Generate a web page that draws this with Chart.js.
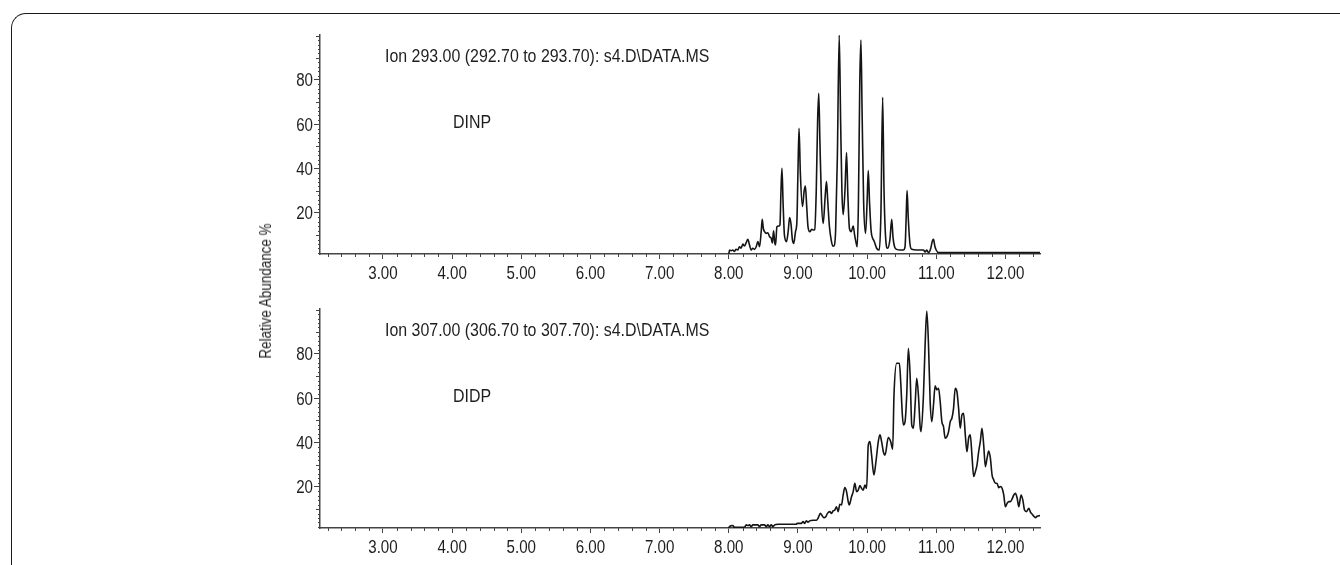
<!DOCTYPE html>
<html>
<head>
<meta charset="utf-8">
<title>DINP / DIDP</title>
<script src="https://cdn.jsdelivr.net/npm/chart.js@4.4.1/dist/chart.umd.min.js"></script>
<style>
  html, body { margin: 0; padding: 0; background: #fff; }
  body { width: 1340px; height: 565px; position: relative; overflow: hidden;
         font-family: "Liberation Sans", Arial, sans-serif; color: #1e1e1e; }
  .marco { position: absolute; left: 11px; top: 13px; width: 1400px; height: 600px;
           border-left: 1.5px solid #1a1a1a; border-top: 1.5px solid #1a1a1a; border-top-left-radius: 15px; }
  canvas { position: absolute; left: 0; }
  /* texto estrecho: Liberation Sans comprimida en horizontal */
  .nota { position: absolute; font-size: 18px; line-height: 20px; white-space: nowrap;
          transform: scaleX(0.885); transform-origin: 0 50%; }
  .ytitulo { position: absolute; left: 266px; top: 291px; font-size: 16px; white-space: nowrap;
             transform: translate(-50%, -50%) rotate(-90deg) scaleX(0.84); }
</style>
</head>
<body>
<div class="marco"></div>
<canvas id="chartDINP" width="1340" height="290" style="top:0"></canvas>
<canvas id="chartDIDP" width="1340" height="290" style="top:274px"></canvas>
<div class="nota" style="left:385px; top:46px">Ion 293.00 (292.70 to 293.70): s4.D\DATA.MS</div>
<div class="nota" style="left:453px; top:112px">DINP</div>
<div class="nota" style="left:385px; top:320px">Ion 307.00 (306.70 to 307.70): s4.D\DATA.MS</div>
<div class="nota" style="left:453px; top:386px">DIDP</div>
<div class="ytitulo">Relative Abundance %</div>
<script>
// Marcas de los ejes
const xTicks = [3, 4, 5, 6, 7, 8, 9, 10, 11, 12];
const yTicks = [20, 40, 60, 80];

// Ion 293 - DINP (tiempo en min, abundancia relativa %)
const dinpTime = [
  8.000, 8.012, 8.035, 8.058, 8.082, 8.106, 8.131, 8.155, 8.179, 8.203, 8.227, 8.252, 8.276, 8.300,
  8.324, 8.348, 8.372, 8.397, 8.421, 8.445, 8.470, 8.484, 8.500, 8.518, 8.542, 8.566, 8.590, 8.614,
  8.630, 8.648, 8.665, 8.677, 8.696, 8.721, 8.740, 8.755, 8.769, 8.785, 8.805, 8.835, 8.860, 8.880,
  8.900, 8.920, 8.940, 8.965, 8.985, 9.000, 9.016, 9.035, 9.066, 9.090, 9.108, 9.125, 9.145, 9.172,
  9.200, 9.219, 9.243, 9.265, 9.285, 9.301, 9.318, 9.340, 9.365, 9.395, 9.413, 9.430, 9.455, 9.480,
  9.505, 9.524, 9.545, 9.570, 9.597, 9.618, 9.636, 9.654, 9.680, 9.703, 9.722, 9.745, 9.770, 9.799,
  9.820, 9.845, 9.857, 9.875, 9.895, 9.911, 9.928, 9.950, 9.978, 10.000, 10.017, 10.035, 10.058, 10.080,
  10.099, 10.138, 10.177, 10.200, 10.225, 10.245, 10.270, 10.297, 10.330, 10.356, 10.375, 10.400, 10.428, 10.476,
  10.525, 10.549, 10.565, 10.578, 10.595, 10.620, 10.646, 10.718, 10.815, 10.839, 10.863, 10.888, 10.920, 10.945,
  10.960, 10.980, 10.999, 11.033, 12.500
];
const dinpAbund = [
  1.4, 3.3, 3.0, 3.3, 2.7, 3.6, 3.3, 4.8, 4.1, 6.0, 5.1, 6.6, 8.1, 5.6,
  3.3, 4.1, 3.6, 4.8, 7.1, 4.8, 12.0, 17.1, 13.0, 11.6, 10.8, 11.1, 9.3, 8.6,
  6.5, 12.0, 6.5, 5.6, 13.8, 14.1, 14.6, 30.0, 40.2, 25.0, 10.0, 7.1, 12.0, 18.0,
  15.0, 8.0, 6.3, 11.6, 16.1, 38.0, 58.2, 38.0, 22.9, 30.0, 32.2, 24.0, 14.0, 11.6,
  12.6, 12.3, 12.6, 30.0, 62.0, 74.0, 52.0, 26.0, 15.3, 28.0, 34.2, 26.0, 14.0, 8.0,
  5.0, 5.2, 12.0, 45.0, 100.3, 60.0, 30.0, 19.2, 30.0, 47.3, 28.0, 13.0, 11.6, 14.1,
  10.0, 6.0, 4.8, 25.0, 80.0, 98.0, 65.0, 25.0, 10.8, 25.0, 39.1, 25.0, 12.0, 8.6,
  7.5, 4.1, 3.3, 20.0, 72.2, 30.0, 8.0, 4.1, 8.0, 17.1, 9.0, 4.5, 3.6, 3.3,
  3.3, 4.8, 18.0, 30.1, 18.0, 6.0, 3.6, 3.3, 3.3, 2.4, 3.3, 2.1, 4.0, 7.5,
  8.1, 5.0, 3.3, 2.1, 2.1
];

// Ion 307 - DIDP
const didpTime = [
  8.000, 8.010, 8.058, 8.082, 8.227, 8.252, 8.276, 8.300, 8.324, 8.348, 8.421, 8.445, 8.469, 8.518,
  8.542, 8.566, 8.590, 8.614, 8.638, 8.663, 8.711, 8.977, 8.987, 9.050, 9.074, 9.098, 9.122, 9.146,
  9.170, 9.219, 9.267, 9.291, 9.325, 9.349, 9.374, 9.403, 9.427, 9.461, 9.485, 9.509, 9.533, 9.557,
  9.582, 9.606, 9.630, 9.654, 9.678, 9.703, 9.727, 9.741, 9.775, 9.799, 9.823, 9.848, 9.872, 9.896,
  9.920, 9.944, 9.969, 9.993, 10.017, 10.041, 10.065, 10.099, 10.128, 10.162, 10.186, 10.210, 10.235, 10.259,
  10.307, 10.341, 10.370, 10.389, 10.428, 10.467, 10.486, 10.510, 10.525, 10.549, 10.573, 10.597, 10.622, 10.646,
  10.670, 10.694, 10.718, 10.742, 10.767, 10.781, 10.815, 10.839, 10.863, 10.888, 10.912, 10.936, 10.960, 10.984,
  11.008, 11.033, 11.057, 11.081, 11.105, 11.129, 11.154, 11.178, 11.202, 11.226, 11.250, 11.274, 11.299, 11.323,
  11.347, 11.371, 11.395, 11.420, 11.444, 11.468, 11.492, 11.516, 11.541, 11.565, 11.589, 11.613, 11.637, 11.661,
  11.686, 11.710, 11.734, 11.758, 11.783, 11.807, 11.831, 11.855, 11.879, 11.903, 11.927, 11.952, 11.976, 12.000,
  12.024, 12.048, 12.073, 12.097, 12.121, 12.145, 12.170, 12.194, 12.208, 12.227, 12.252, 12.276, 12.305, 12.339,
  12.363, 12.387, 12.435, 12.459, 12.500
];
const didpAbund = [
  1.4, 2.1, 2.6, 1.8, 1.8, 2.9, 2.6, 2.9, 2.1, 2.9, 2.9, 2.1, 2.9, 2.9,
  2.1, 2.9, 2.1, 2.9, 2.1, 2.9, 3.2, 3.2, 3.6, 3.6, 4.4, 3.6, 4.7, 4.1,
  4.7, 5.0, 5.0, 5.9, 8.1, 7.1, 6.2, 6.6, 8.1, 8.9, 8.1, 9.2, 9.6, 11.1,
  8.9, 12.2, 11.9, 16.4, 19.7, 17.9, 13.4, 11.9, 15.6, 17.9, 21.7, 17.9, 18.6, 20.6,
  19.4, 18.6, 20.9, 19.4, 38.9, 40.5, 34.4, 25.4, 31.4, 40.5, 43.5, 40.5, 35.9, 34.4,
  42.3, 40.5, 37.1, 61.5, 75.8, 75.8, 67.5, 52.5, 48.0, 49.5, 61.5, 82.6, 70.5, 48.0,
  46.5, 57.0, 69.0, 61.5, 47.2, 45.0, 61.5, 84.1, 99.4, 84.1, 58.5, 49.5, 57.0, 65.7,
  63.8, 64.5, 58.5, 49.5, 47.2, 42.0, 42.7, 45.0, 49.5, 51.0, 55.5, 64.5, 63.0, 55.5,
  46.5, 52.5, 53.2, 43.5, 35.9, 42.0, 43.5, 34.4, 24.7, 26.9, 29.9, 35.9, 40.5, 46.5,
  38.9, 29.2, 32.9, 36.2, 32.9, 25.4, 23.2, 21.7, 21.7, 19.7, 20.2, 19.4, 16.4, 11.1,
  12.6, 13.4, 13.4, 14.6, 16.4, 17.1, 14.9, 11.1, 13.4, 16.4, 14.1, 9.6, 8.9, 10.4,
  8.6, 7.7, 6.2, 6.8, 7.1
];

const X_MIN = 2.09, X_MAX = 12.5;
const Y_MIN = 1.5, Y_MAX = 100.3;
const FUENTE = '18px "Liberation Sans", Arial, sans-serif';
const ESTRECHO = 0.84; // compresión horizontal del texto

// Marcas menores (cada 0.2 min en x, cada 2 % en y) y etiquetas estrechas
const ejesCromatograma = {
    id: "ejesCromatograma",
    afterDraw(chart) {
        const ctx = chart.ctx;
        const x = chart.scales.x;
        const y = chart.scales.y;
        ctx.save();
        ctx.strokeStyle = "#444";
        ctx.lineWidth = 1;
        ctx.beginPath();
        for (let v = 2.2; v < X_MAX; v += 0.2) {
            const r = Math.round(v * 10) / 10;
            if (Number.isInteger(r)) continue;
            const px = Math.round(x.getPixelForValue(r)) + 0.5;
            ctx.moveTo(px, y.bottom);
            ctx.lineTo(px, y.bottom + 3);
        }
        for (let v = 2; v < Y_MAX; v += 2) {
            if (v % 20 === 0 && v <= 80) continue;
            const py = Math.round(y.getPixelForValue(v)) + 0.5;
            const len = v % 10 === 0 ? 4 : 2;
            ctx.moveTo(x.left, py);
            ctx.lineTo(x.left - len, py);
        }
        ctx.stroke();

        // Etiquetas de las marcas
        ctx.fillStyle = "#1e1e1e";
        ctx.font = FUENTE;
        ctx.textBaseline = "alphabetic";
        ctx.textAlign = "center";
        xTicks.forEach(v => {
            ctx.save();
            ctx.translate(x.getPixelForValue(v), y.bottom + 24.5);
            ctx.scale(ESTRECHO, 1);
            ctx.fillText(v.toFixed(2), 0, 0);
            ctx.restore();
        });
        ctx.textAlign = "right";
        yTicks.forEach(v => {
            ctx.save();
            ctx.translate(x.left - 7, y.getPixelForValue(v) + 6.5);
            ctx.scale(ESTRECHO, 1);
            ctx.fillText(String(v), 0, 0);
            ctx.restore();
        });
        ctx.restore();
    }
};

function crearCromatograma(id, tiempos, abundancias) {
    const puntos = tiempos.map((t, i) => ({ x: t, y: abundancias[i] }));
    return new Chart(document.getElementById(id), {
        type: "line",
        data: {
            datasets: [{
                data: puntos,
                borderColor: "#141414",
                borderWidth: 1.6,
                pointRadius: 0,
                cubicInterpolationMode: "monotone",
                fill: false
            }]
        },
        options: {
            responsive: false,
            animation: false,
            layout: { padding: { left: 270, right: 300, top: 35, bottom: 0 } },
            plugins: { legend: { display: false }, tooltip: { enabled: false } },
            scales: {
                x: {
                    type: "linear",
                    min: X_MIN,
                    max: X_MAX,
                    afterBuildTicks: (scale) => { scale.ticks = xTicks.map(v => ({ value: v })); },
                    afterFit: (scale) => { scale.height = 36; },
                    grid: { drawOnChartArea: false, drawTicks: true, tickLength: 5, tickColor: "#444", tickWidth: 1 },
                    border: { display: true, color: "#444", width: 1.5 },
                    ticks: { display: false }
                },
                y: {
                    min: Y_MIN,
                    max: Y_MAX,
                    afterBuildTicks: (scale) => { scale.ticks = yTicks.map(v => ({ value: v })); },
                    afterFit: (scale) => { scale.width = 50; },
                    grid: { drawOnChartArea: false, drawTicks: true, tickLength: 6, tickColor: "#444", tickWidth: 1 },
                    border: { display: true, color: "#444", width: 1.5 },
                    ticks: { display: false }
                }
            }
        },
        plugins: [ejesCromatograma]
    });
}

crearCromatograma("chartDINP", dinpTime, dinpAbund);
crearCromatograma("chartDIDP", didpTime, didpAbund);
</script>
</body>
</html>
